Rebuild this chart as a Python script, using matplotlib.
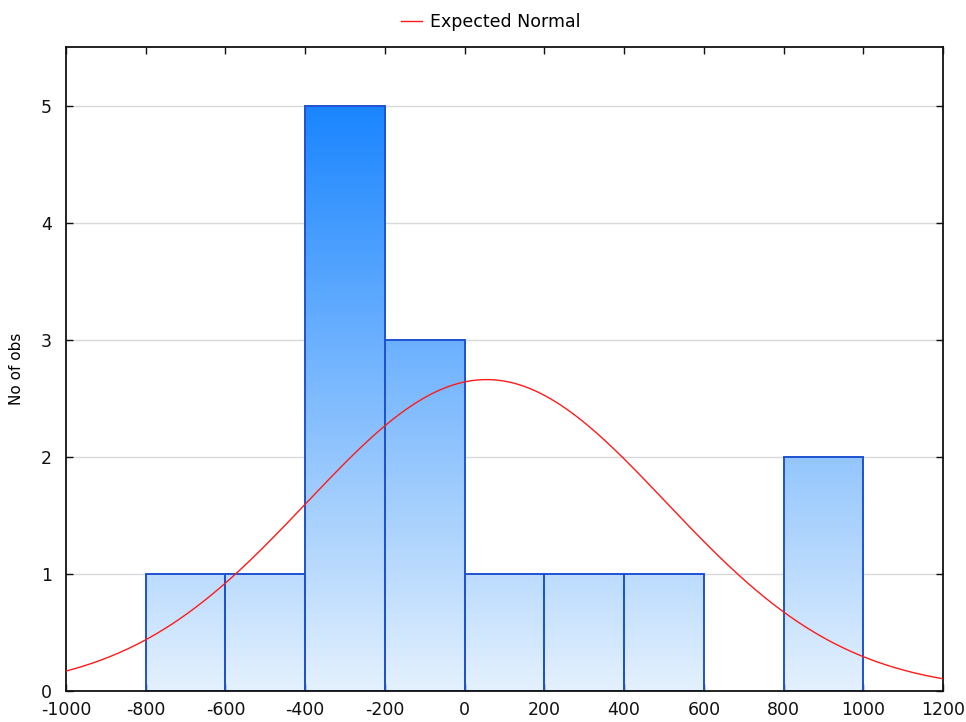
import numpy as np
import matplotlib
matplotlib.use("Agg")
import matplotlib.pyplot as plt
from matplotlib.path import Path
from matplotlib.patches import PathPatch, Rectangle
from matplotlib.colors import LinearSegmentedColormap

plt.rcParams['font.family'] = ['DejaVu Sans']
plt.rcParams['axes.unicode_minus'] = False

# Data
bin_edges = [-800, -600, -400, -200, 0, 200, 400, 600, 800, 1000]
counts = [1, 1, 5, 3, 1, 1, 1, 0, 2]
n_obs = 15
bin_width = 200
normal_mean = 55
normal_sd = 450
x_ticks = [-1000, -800, -600, -400, -200, 0, 200, 400, 600, 800, 1000, 1200]
y_ticks = [0, 1, 2, 3, 4, 5]

fig = plt.figure(figsize=(9.66, 7.22), dpi=100)
ax = fig.add_axes([66/966, 31/722, (943-66)/966, (691-47)/722])
ax.set_xlim(-1000, 1200)
ax.set_ylim(0, 5.5)

# gridlines
for y in y_ticks[1:]:
    ax.axhline(y, color='#d9d9d9', lw=1.0, zorder=0)

# gradient fill clipped to bars
cmap = LinearSegmentedColormap.from_list('g', ['#e4f1fd', '#1a85ff'])
grad = np.linspace(0, 1, 256).reshape(-1, 1)
im = ax.imshow(grad, extent=[-1000, 1200, 0, 5], origin='lower', aspect='auto',
               cmap=cmap, zorder=1, interpolation='bilinear')
verts, codes = [], []
for left, right, c in zip(bin_edges[:-1], bin_edges[1:], counts):
    if c <= 0:
        continue
    verts += [(left, 0), (left, c), (right, c), (right, 0), (left, 0)]
    codes += [Path.MOVETO, Path.LINETO, Path.LINETO, Path.LINETO, Path.CLOSEPOLY]
clip = PathPatch(Path(verts, codes), transform=ax.transData, facecolor='none', edgecolor='none')
ax.add_patch(clip)
im.set_clip_path(clip)

for left, right, c in zip(bin_edges[:-1], bin_edges[1:], counts):
    if c <= 0:
        continue
    ax.add_patch(Rectangle((left, 0), right - left, c, facecolor='none',
                           edgecolor='#1f52d0', lw=1.4, zorder=2))

# expected normal
xs = np.linspace(-1000, 1200, 500)
ys = n_obs * bin_width / (normal_sd * np.sqrt(2 * np.pi)) * np.exp(-0.5 * ((xs - normal_mean) / normal_sd) ** 2)
ax.plot(xs, ys, color='#ff1a1a', lw=1.0, zorder=3, label='Expected Normal')

ax.set_xticks(x_ticks)
ax.set_yticks(y_ticks)
ax.tick_params(direction='in', top=True, right=True, labelsize=12.5, length=5, width=1,
               colors='#111111')
ax.tick_params(axis='y', pad=10)
ax.tick_params(axis='x', pad=7)
for s in ax.spines.values():
    s.set_linewidth(1.3)
    s.set_color('#111111')
ax.set_ylabel('No of obs', fontsize=11, labelpad=12)

fig.legend(loc='upper center', bbox_to_anchor=(0.508, 1.004), frameon=False, fontsize=12.5,
           handlelength=1.2, handletextpad=0.5)

fig.savefig('out.png', dpi=100)
